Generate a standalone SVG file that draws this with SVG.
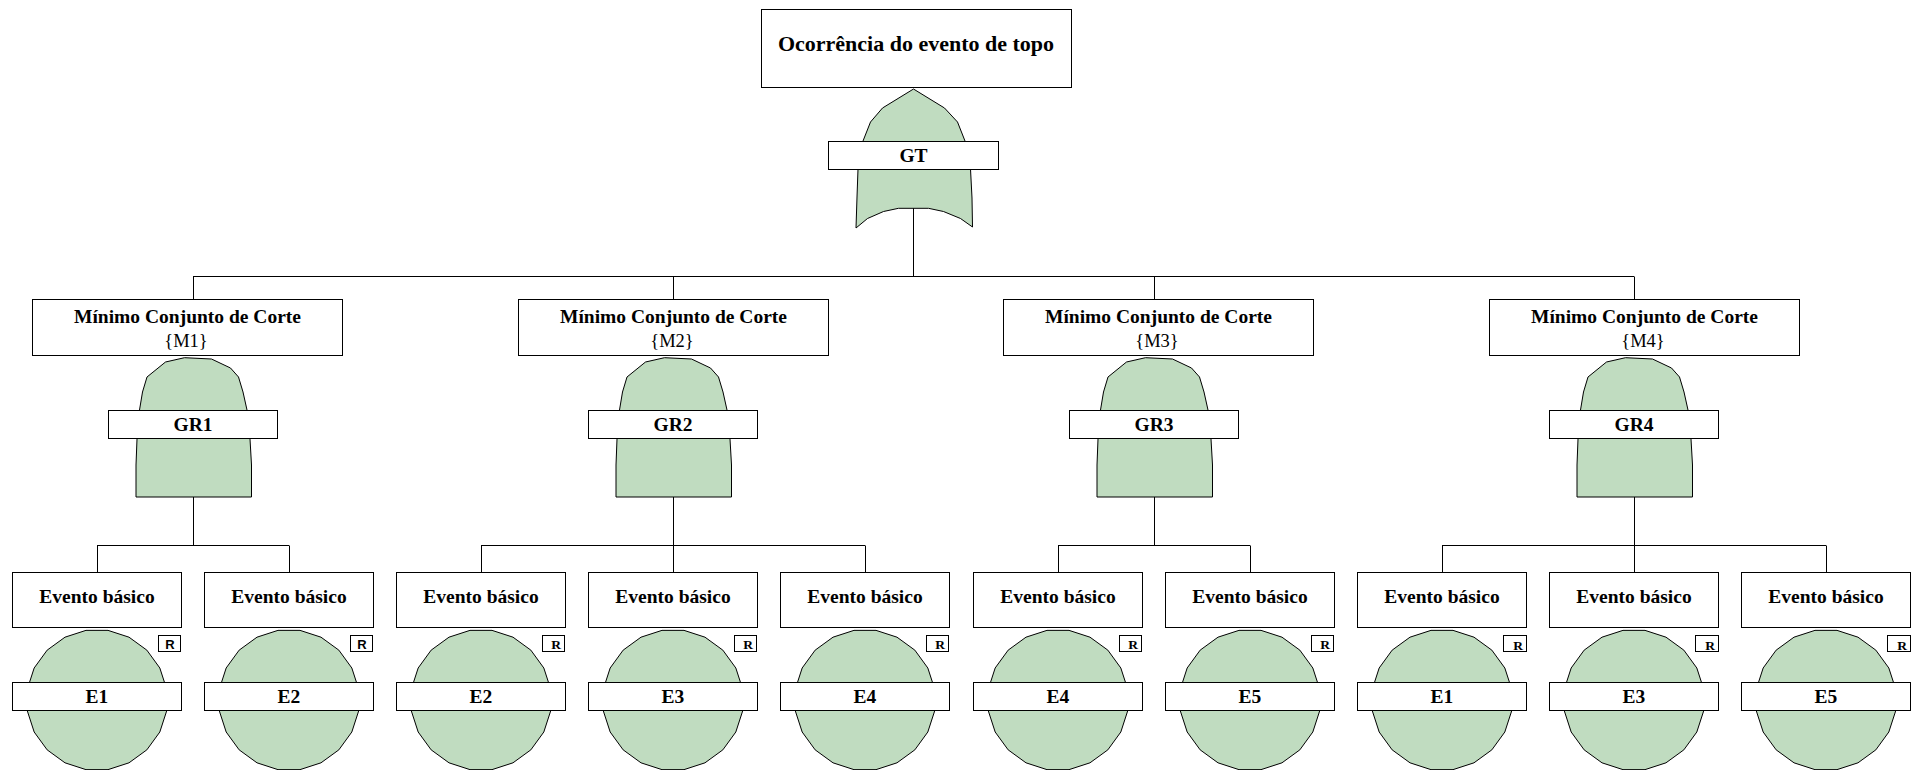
<svg xmlns="http://www.w3.org/2000/svg" width="1925" height="770" viewBox="0 0 1925 770">
<style>
.box{fill:#fff;stroke:#000;stroke-width:1}
.gate{fill:#C0DCC0;stroke:#000;stroke-width:1}
.ln{stroke:#000;stroke-width:1;fill:none}
.t{font-family:"Liberation Serif","Times New Roman",serif;font-weight:bold;font-size:19.5px;text-anchor:middle;fill:#000}
.big{font-size:22px}
.n{font-family:"Liberation Serif","Times New Roman",serif;font-size:18.5px;text-anchor:middle;fill:#000}
.rs{font-family:"Liberation Sans",Arial,sans-serif;font-weight:bold;font-size:13px;text-anchor:middle;fill:#000}
.rt{font-family:"Liberation Serif","Times New Roman",serif;font-weight:bold;font-size:13.5px;text-anchor:middle;fill:#000}
</style>
<defs>
<path id="or" d="M-57.5,228 L-56.5,197 L-55.5,169 L-50.5,141 L-43,122 L-31,108 L0,89 L31,108 L44,122 L51.5,141 L57,169 L58.5,198 L59,227 L47,218.5 L30,211.5 L15,208.3 L-15,208.3 L-30,211.5 L-46,218.5 Z"/>
<path id="and" d="M-57.5,497 L-57.5,465 L-56.5,439 L-54,410 L-51,392 L-46.5,377 L-28,362 L-9,357.7 L18,359 L37,368 L45,377 L49.5,392 L53.5,410 L56.5,439 L58,465 L58,497 Z"/>
<polygon id="circ" points="11.03,-69.63 32.01,-62.82 49.85,-49.85 62.82,-32.01 69.63,-11.03 69.63,11.03 62.82,32.01 49.85,49.85 32.01,62.82 11.03,69.63 -11.03,69.63 -32.01,62.82 -49.85,49.85 -62.82,32.01 -69.63,11.03 -69.63,-11.03 -62.82,-32.01 -49.85,-49.85 -32.01,-62.82 -11.03,-69.63"/>
</defs>

<g id="connectors" class="ln">
<path d="M913.5,208 V276.5"/>
<path d="M193,276.5 H1634"/>
<path d="M193.5,276.5 V299.5 M673.5,276.5 V299.5 M1154.5,276.5 V299.5 M1634.5,276.5 V299.5"/>
<path d="M193.5,497 V545.5 M673.5,497 V545.5 M1154.5,497 V545.5 M1634.5,497 V545.5"/>
<path d="M97,545.5 H289 M481,545.5 H865 M1058,545.5 H1250 M1442,545.5 H1826"/>
<path d="M97.5,545.5 V572.5 M289.5,545.5 V572.5 M481.5,545.5 V572.5 M673.5,545.5 V572.5 M865.5,545.5 V572.5 M1058.5,545.5 V572.5 M1250.5,545.5 V572.5 M1442.5,545.5 V572.5 M1634.5,545.5 V572.5 M1826.5,545.5 V572.5"/>
</g>

<g id="top">
<rect class="box" x="761.5" y="9.5" width="310" height="78"/>
<text class="t big" x="916" y="51">Ocorrência do evento de topo</text>
</g>

<g id="GT">
<use href="#or" class="gate" transform="translate(913.5,0)"/>
<rect class="box" x="828.5" y="141.5" width="170" height="28"/>
<text class="t" x="913.5" y="162">GT</text>
</g>

<g id="M1">
<rect class="box" x="32.5" y="299.5" width="310" height="56"/>
<text class="t" x="187.5" y="323">Mínimo Conjunto de Corte</text>
<text class="n" x="186" y="347">{M1}</text>
</g>
<g id="M2">
<rect class="box" x="518.5" y="299.5" width="310" height="56"/>
<text class="t" x="673.5" y="323">Mínimo Conjunto de Corte</text>
<text class="n" x="672" y="347">{M2}</text>
</g>
<g id="M3">
<rect class="box" x="1003.5" y="299.5" width="310" height="56"/>
<text class="t" x="1158.5" y="323">Mínimo Conjunto de Corte</text>
<text class="n" x="1157" y="347">{M3}</text>
</g>
<g id="M4">
<rect class="box" x="1489.5" y="299.5" width="310" height="56"/>
<text class="t" x="1644.5" y="323">Mínimo Conjunto de Corte</text>
<text class="n" x="1643" y="347">{M4}</text>
</g>

<g id="GR1">
<use href="#and" class="gate" transform="translate(193.5,0)"/>
<rect class="box" x="108.5" y="410.5" width="169" height="28"/>
<text class="t" x="193" y="431">GR1</text>
</g>
<g id="GR2">
<use href="#and" class="gate" transform="translate(673.5,0)"/>
<rect class="box" x="588.5" y="410.5" width="169" height="28"/>
<text class="t" x="673" y="431">GR2</text>
</g>
<g id="GR3">
<use href="#and" class="gate" transform="translate(1154.5,0)"/>
<rect class="box" x="1069.5" y="410.5" width="169" height="28"/>
<text class="t" x="1154" y="431">GR3</text>
</g>
<g id="GR4">
<use href="#and" class="gate" transform="translate(1634.5,0)"/>
<rect class="box" x="1549.5" y="410.5" width="169" height="28"/>
<text class="t" x="1634" y="431">GR4</text>
</g>

<g id="B1">
<rect class="box" x="12.5" y="572.5" width="169" height="55"/>
<text class="t" x="97" y="603">Evento básico</text>
<use href="#circ" class="gate" transform="translate(97,700)"/>
<rect class="box" x="158.5" y="635.5" width="22" height="16"/>
<text class="rs" x="170" y="648.5">R</text>
<rect class="box" x="12.5" y="682.5" width="169" height="28"/>
<text class="t" x="97" y="702.5">E1</text>
</g>
<g id="B2">
<rect class="box" x="204.5" y="572.5" width="169" height="55"/>
<text class="t" x="289" y="603">Evento básico</text>
<use href="#circ" class="gate" transform="translate(289,700)"/>
<rect class="box" x="350.5" y="635.5" width="22" height="16"/>
<text class="rs" x="362" y="648.5">R</text>
<rect class="box" x="204.5" y="682.5" width="169" height="28"/>
<text class="t" x="289" y="702.5">E2</text>
</g>
<g id="B3">
<rect class="box" x="396.5" y="572.5" width="169" height="55"/>
<text class="t" x="481" y="603">Evento básico</text>
<use href="#circ" class="gate" transform="translate(481,700)"/>
<rect class="box" x="542.5" y="635.5" width="22" height="16"/>
<text class="rt" x="556" y="649">R</text>
<rect class="box" x="396.5" y="682.5" width="169" height="28"/>
<text class="t" x="481" y="702.5">E2</text>
</g>
<g id="B4">
<rect class="box" x="588.5" y="572.5" width="169" height="55"/>
<text class="t" x="673" y="603">Evento básico</text>
<use href="#circ" class="gate" transform="translate(673,700)"/>
<rect class="box" x="734.5" y="635.5" width="22" height="16"/>
<text class="rt" x="748" y="649">R</text>
<rect class="box" x="588.5" y="682.5" width="169" height="28"/>
<text class="t" x="673" y="702.5">E3</text>
</g>
<g id="B5">
<rect class="box" x="780.5" y="572.5" width="169" height="55"/>
<text class="t" x="865" y="603">Evento básico</text>
<use href="#circ" class="gate" transform="translate(865,700)"/>
<rect class="box" x="926.5" y="635.5" width="22" height="16"/>
<text class="rt" x="940" y="649">R</text>
<rect class="box" x="780.5" y="682.5" width="169" height="28"/>
<text class="t" x="865" y="702.5">E4</text>
</g>
<g id="B6">
<rect class="box" x="973.5" y="572.5" width="169" height="55"/>
<text class="t" x="1058" y="603">Evento básico</text>
<use href="#circ" class="gate" transform="translate(1058,700)"/>
<rect class="box" x="1119.5" y="635.5" width="22" height="16"/>
<text class="rt" x="1133" y="649">R</text>
<rect class="box" x="973.5" y="682.5" width="169" height="28"/>
<text class="t" x="1058" y="702.5">E4</text>
</g>
<g id="B7">
<rect class="box" x="1165.5" y="572.5" width="169" height="55"/>
<text class="t" x="1250" y="603">Evento básico</text>
<use href="#circ" class="gate" transform="translate(1250,700)"/>
<rect class="box" x="1311.5" y="635.5" width="22" height="16"/>
<text class="rt" x="1325" y="649">R</text>
<rect class="box" x="1165.5" y="682.5" width="169" height="28"/>
<text class="t" x="1250" y="702.5">E5</text>
</g>
<g id="B8">
<rect class="box" x="1357.5" y="572.5" width="169" height="55"/>
<text class="t" x="1442" y="603">Evento básico</text>
<use href="#circ" class="gate" transform="translate(1442,700)"/>
<rect class="box" x="1503.5" y="635.5" width="23" height="16"/>
<text class="rt" x="1518" y="650">R</text>
<rect class="box" x="1357.5" y="682.5" width="169" height="28"/>
<text class="t" x="1442" y="702.5">E1</text>
</g>
<g id="B9">
<rect class="box" x="1549.5" y="572.5" width="169" height="55"/>
<text class="t" x="1634" y="603">Evento básico</text>
<use href="#circ" class="gate" transform="translate(1634,700)"/>
<rect class="box" x="1695.5" y="635.5" width="23" height="16"/>
<text class="rt" x="1710" y="650">R</text>
<rect class="box" x="1549.5" y="682.5" width="169" height="28"/>
<text class="t" x="1634" y="702.5">E3</text>
</g>
<g id="B10">
<rect class="box" x="1741.5" y="572.5" width="169" height="55"/>
<text class="t" x="1826" y="603">Evento básico</text>
<use href="#circ" class="gate" transform="translate(1826,700)"/>
<rect class="box" x="1887.5" y="635.5" width="23" height="16"/>
<text class="rt" x="1902" y="650">R</text>
<rect class="box" x="1741.5" y="682.5" width="169" height="28"/>
<text class="t" x="1826" y="702.5">E5</text>
</g>
</svg>
